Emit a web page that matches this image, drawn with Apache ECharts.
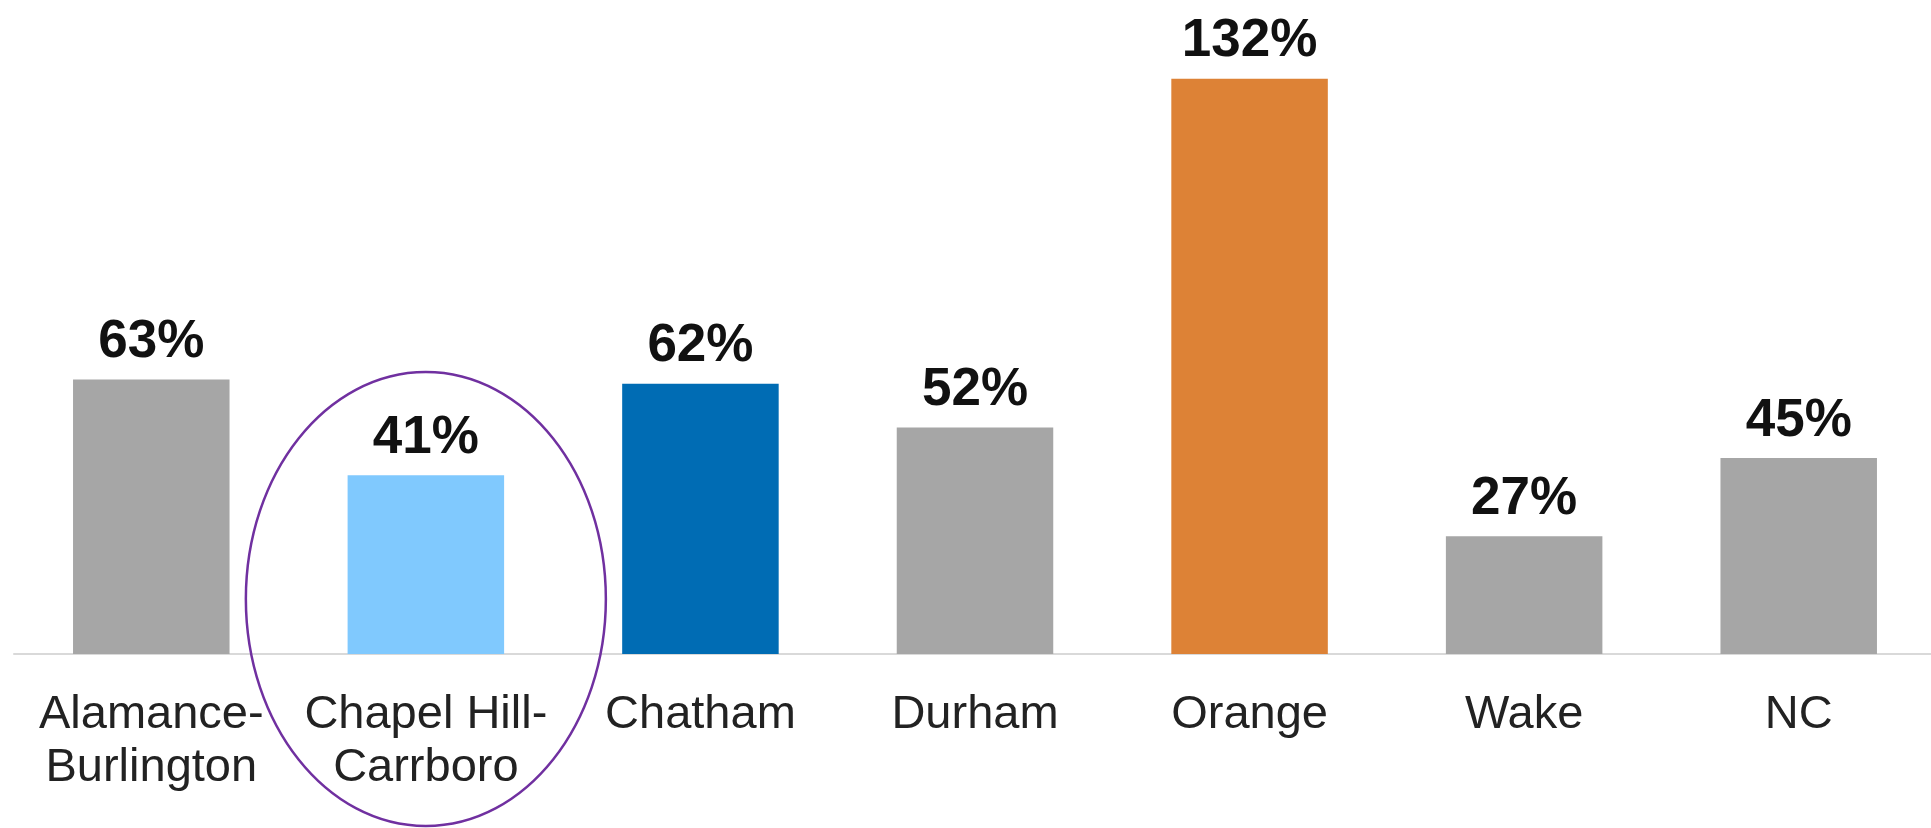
<!DOCTYPE html>
<html>
<head>
<meta charset="utf-8">
<script src="https://cdn.jsdelivr.net/npm/echarts@6/dist/echarts.min.js"></script>
<style>
  html, body { margin: 0; padding: 0; background: #fff; overflow: hidden; }
  #main { width: 1940px; height: 828px; }
</style>
</head>
<body>
<div id="main"></div>
<script>
// data
var categories = ['Alamance-Burlington', 'Chapel Hill-Carrboro', 'Chatham', 'Durham', 'Orange', 'Wake', 'NC'];
var values = [63, 41, 62, 52, 132, 27, 45];
var barColors = ['#a6a6a6', '#80c9fe', '#006cb4', '#a6a6a6', '#dd8236', '#a6a6a6', '#a6a6a6'];
var circled = 'Chapel Hill-Carrboro';

var myChart = echarts.init(document.getElementById('main'));

var option = {
    animation: false,
    backgroundColor: '#fff',
    grid: {
        left: 14,
        width: 1922,
        top: 44,
        bottom: 174
    },
    xAxis: {
        type: 'category',
        data: categories,
        axisLine: { lineStyle: { color: '#d9d9d9', width: 2 } },
        axisTick: { show: false },
        axisLabel: {
            interval: 0,
            margin: 35,
            color: '#222',
            fontFamily: 'Liberation Sans',
            fontSize: 47,
            lineHeight: 53,
            formatter: function (v) { return v.replace('-', '-\n'); }
        }
    },
    yAxis: {
        type: 'value',
        min: 0,
        max: 140,
        show: false,
        splitLine: { show: false }
    },
    series: [{
        type: 'bar',
        barWidth: '57%',
        data: values.map(function (v, i) {
            return { value: v, itemStyle: { color: barColors[i] } };
        }),
        label: {
            show: true,
            position: 'top',
            distance: 9,
            formatter: '{c}%',
            color: '#111',
            fontFamily: 'Liberation Sans',
            fontWeight: 'bold',
            fontSize: 53,
            lineHeight: 56
        }
    }]
};

myChart.setOption(option);

// purple ring round the highlighted category
var cx = myChart.convertToPixel({ xAxisIndex: 0 }, circled);
myChart.setOption({
    graphic: [{
        type: 'ellipse',
        shape: { cx: cx, cy: 599, rx: 180, ry: 227 },
        style: { fill: 'none', stroke: '#7030a0', lineWidth: 2.5 },
        z: 100
    }]
});

window.addEventListener('resize', function () {
    myChart.resize();
});
</script>
</body>
</html>
